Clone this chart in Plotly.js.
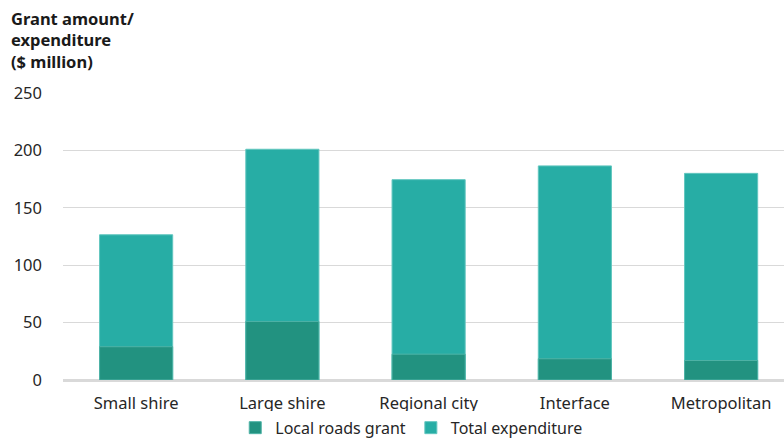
<!DOCTYPE html>
<html>
<head>
<meta charset="utf-8">
<script src="https://cdn.plot.ly/plotly-3.0.1.min.js"></script>
<style>
  html, body { margin: 0; padding: 0; background: #fff; }
  #chart { width: 784px; height: 441px; }
</style>
</head>
<body>
<div id="chart"></div>
<script>
const categories = ["Small shire", "Large shire", "Regional city", "Interface", "Metropolitan"];
const localRoadsGrant = [29, 51, 22.5, 18.5, 17];
const totalExpenditure = [126.5, 201, 174.5, 186.5, 180];
const yTicks = [0, 50, 100, 150, 200, 250];

const FONT = "Noto Sans, Open Sans, sans-serif";
const TEXT = "#262626";

const traces = [
  {
    type: "bar",
    name: "Total expenditure",
    x: categories,
    y: totalExpenditure,
    marker: { color: "#27ada5", line: { color: "#62c6bf", width: 1 } },
    legendrank: 2,
    hoverinfo: "skip"
  },
  {
    type: "bar",
    name: "Local roads grant",
    x: categories,
    y: localRoadsGrant,
    marker: { color: "#229280", line: { color: "#4fb3a6", width: 1 } },
    legendrank: 1,
    hoverinfo: "skip"
  }
];

const layout = {
  width: 784,
  height: 441,
  margin: { l: 63, r: 0, t: 93, b: 61 },
  paper_bgcolor: "#fff",
  plot_bgcolor: "#fff",
  barmode: "overlay",
  bargap: 0.5,
  font: { family: FONT, size: 16, color: TEXT },
  showlegend: true,
  legend: {
    orientation: "h",
    x: 0.483, xanchor: "center", xref: "paper",
    y: 0.03, yanchor: "middle", yref: "container",
    font: { size: 16, color: TEXT },
    itemwidth: 30,
    tracegroupgap: 0,
    traceorder: "normal"
  },
  xaxis: {
    type: "category",
    range: [-0.5, 4.43],
    showgrid: false,
    showline: false,
    zeroline: false,
    ticks: "",
    tickfont: { size: 16.5, color: TEXT },
    ticklabelstandoff: 11
  },
  yaxis: {
    range: [0, 250],
    tickvals: yTicks,
    ticktext: yTicks.map(String),
    showgrid: true,
    gridcolor: "#d9d9d9",
    gridwidth: 1,
    zeroline: true,
    zerolinecolor: "#d9d9d9",
    zerolinewidth: 3,
    showline: false,
    ticks: "",
    tickfont: { size: 16.5, color: TEXT },
    ticklabelstandoff: 20
  },
  annotations: [
    {
      text: "<b>Grant amount/<br>expenditure<br>($ million)</b>",
      xref: "paper", yref: "paper",
      x: 0, y: 1,
      xshift: -54, yshift: 88,
      xanchor: "left", yanchor: "top",
      align: "left",
      showarrow: false,
      font: { family: FONT, size: 16.5, color: "#1a1a1a" }
    }
  ]
};

Plotly.newPlot("chart", traces, layout, { displayModeBar: false, staticPlot: true });
</script>
</body>
</html>
